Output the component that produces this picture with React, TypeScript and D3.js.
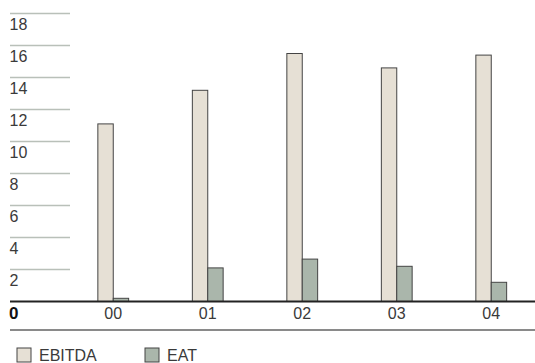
import React from "react";
import * as d3 from "d3";

const categories = ["00", "01", "02", "03", "04"];
const ebitda = [11.1, 13.2, 15.5, 14.6, 15.4];
const eat = [0.2, 2.1, 2.65, 2.2, 1.2];
const yTicks = [2, 4, 6, 8, 10, 12, 14, 16, 18];
const seriesNames = ["EBITDA", "EAT"];

const W = 535;
const H = 363;
const FONT = "'Liberation Sans', Arial, Helvetica, sans-serif";
const TEXT = "#3a3a3a";
const COLORS = ["#e6e0d5", "#aab6ab"];

export default function App() {
  const y = d3.scaleLinear().domain([0, 18]).range([301.5, 13.5]);
  const x = d3.scaleBand<string>().domain(categories).range([66, 538.5]);
  const barW = 15.4;
  const series = [ebitda, eat];

  return (
    <svg
      width={W}
      height={H}
      style={{ position: "absolute", left: 0, top: 0, background: "#fff" }}
      fontFamily={FONT}
    >
      {yTicks.map((t) => (
        <g key={t}>
          <line x1={10} x2={70} y1={y(t)} y2={y(t)} stroke="#b9c0b9" strokeWidth={1.5} />
          <text x={9.5} y={y(t) + 16.5} fontSize={16} fill={TEXT}>
            {t}
          </text>
        </g>
      ))}
      {categories.map((c, i) => {
        const cx = (x(c) as number) + x.bandwidth() / 2;
        return (
          <g key={c}>
            {series.map((s, k) => (
              <rect
                key={k}
                x={cx - barW + k * barW}
                y={y(s[i])}
                width={barW}
                height={y(0) - y(s[i])}
                fill={COLORS[k]}
                stroke="#444"
                strokeWidth={1}
              />
            ))}
            <text x={cx} y={318.5} textAnchor="middle" fontSize={16} fill={TEXT}>
              {c}
            </text>
          </g>
        );
      })}
      <line x1={10} x2={535} y1={y(0)} y2={y(0)} stroke="#222" strokeWidth={1.8} />
      <text x={9} y={318.5} fontSize={17} fontWeight="bold" fill="#111">
        0
      </text>
      <line x1={10} x2={535} y1={330} y2={330} stroke="#8a8a8a" strokeWidth={2} />
      {seriesNames.map((n, k) => (
        <g key={n} transform={`translate(${17 + k * 128},348)`}>
          <rect x={0} y={0} width={14} height={14} fill={COLORS[k]} stroke="#444" strokeWidth={1} />
          <text x={22} y={13} fontSize={16} fill={TEXT}>
            {n}
          </text>
        </g>
      ))}
    </svg>
  );
}
